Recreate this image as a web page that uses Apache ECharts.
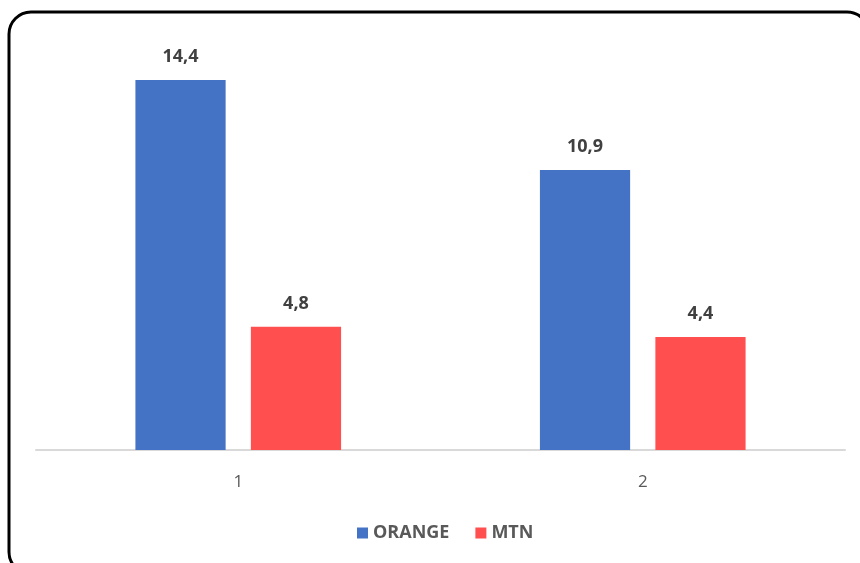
<!DOCTYPE html>
<html>
<head>
<meta charset="utf-8">
<script src="https://cdn.jsdelivr.net/npm/echarts@6/dist/echarts.min.js"></script>
<style>
html,body{margin:0;padding:0;background:#fff;}
#c{width:860px;height:563px;}
</style>
</head>
<body>
<div id="c"></div>
<script>
const categories = ['1', '2'];
const orange = [14.4, 10.9];
const mtn = [4.8, 4.4];
const seriesNames = ['ORANGE', 'MTN'];

const chart = echarts.init(document.getElementById('c'));
const fmt = p => String(p.value).replace('.', ',');
const labelStyle = {
  show: true, position: 'top', distance: 14, formatter: fmt,
  fontFamily: 'Open Sans', fontWeight: 'bold', fontSize: 18, color: '#404040'
};
chart.setOption({
  animation: false,
  backgroundColor: '#fff',
  graphic: [{
    type: 'rect', shape: {x: 9, y: 12, width: 860, height: 562, r: 22},
    style: {fill: 'none', stroke: '#000', lineWidth: 3}, z: -1
  }],
  grid: {left: 36, right: 15, top: 39, bottom: 113},
  legend: {
    data: seriesNames, bottom: 16, left: 352, itemWidth: 11, itemHeight: 11,
    itemGap: 26, icon: 'rect',
    textStyle: {fontFamily: 'Open Sans', fontWeight: 'bold', fontSize: 18, color: '#595959'}
  },
  xAxis: {
    type: 'category', data: categories,
    axisLine: {lineStyle: {color: '#d9d9d9', width: 2}},
    axisTick: {show: false},
    axisLabel: {margin: 24, fontFamily: 'Open Sans', fontSize: 17, color: '#595959'}
  },
  yAxis: {type: 'value', min: 0, max: 16, show: false, splitLine: {show: false}},
  series: [
    {name: seriesNames[0], type: 'bar', data: orange, barWidth: '22.3%', barGap: '28%',
     itemStyle: {color: '#4472C4'}, label: labelStyle},
    {name: seriesNames[1], type: 'bar', data: mtn, barWidth: '22.3%',
     itemStyle: {color: '#FF4F4F'}, label: labelStyle}
  ]
});
</script>
</body>
</html>
